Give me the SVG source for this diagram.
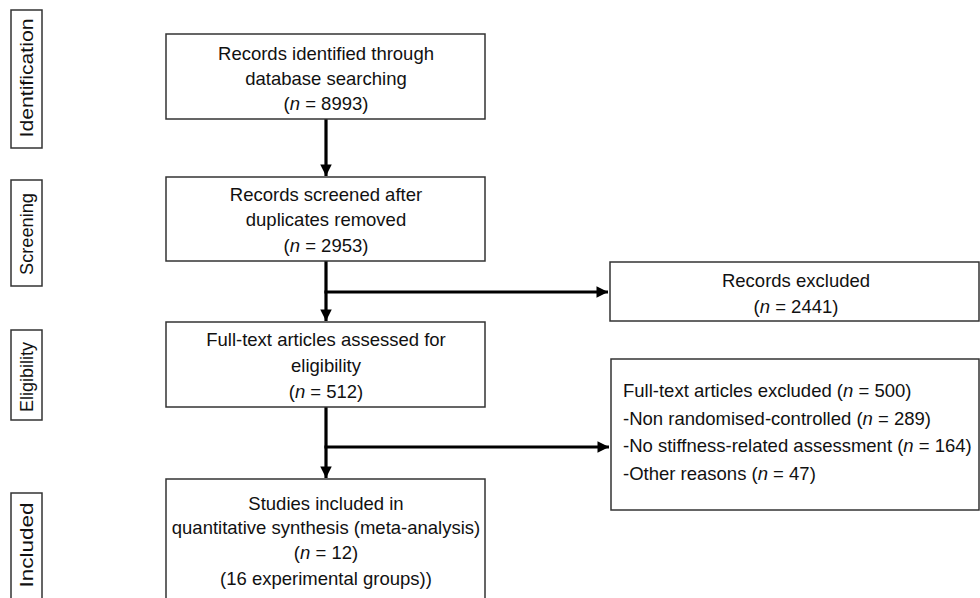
<svg xmlns="http://www.w3.org/2000/svg" width="980" height="598" viewBox="0 0 980 598">
<style>
.box{fill:#fff;stroke:#333;stroke-width:1.5}
.t{font-family:"Liberation Sans",Arial,sans-serif;font-size:18.5px;fill:#111}
.c{text-anchor:middle}
.side{font-family:"Liberation Sans",Arial,sans-serif;font-size:19px;fill:#111;text-anchor:middle}
.con{stroke:#000;stroke-width:3.2;fill:none}
</style>
<defs>
<marker id="ah" viewBox="0 0 10 10" refX="10" refY="5" markerWidth="4" markerHeight="3.6" orient="auto" markerUnits="strokeWidth">
<path d="M0,0 L10,5 L0,10 z" fill="#000"/>
</marker>
</defs>
<rect width="980" height="598" fill="#fff"/>

<g id="side-identification">
<rect class="box" x="11" y="10" width="31" height="138"/>
<text class="side" transform="translate(33,78) rotate(-90)" textLength="119" lengthAdjust="spacingAndGlyphs">Identification</text>
</g>
<g id="side-screening">
<rect class="box" x="11" y="180" width="31" height="106"/>
<text class="side" transform="translate(33,234) rotate(-90)" textLength="82" lengthAdjust="spacingAndGlyphs">Screening</text>
</g>
<g id="side-eligibility">
<rect class="box" x="11" y="330" width="31" height="90"/>
<text class="side" transform="translate(33,377) rotate(-90)" textLength="70" lengthAdjust="spacingAndGlyphs">Eligibility</text>
</g>
<g id="side-included">
<rect class="box" x="11" y="493" width="31" height="110"/>
<text class="side" transform="translate(33,545) rotate(-90)" textLength="85" lengthAdjust="spacingAndGlyphs">Included</text>
</g>

<g id="connectors">
<line class="con" x1="326" y1="119" x2="326" y2="176" marker-end="url(#ah)"/>
<line class="con" x1="326" y1="261" x2="326" y2="321" marker-end="url(#ah)"/>
<line class="con" x1="324.4" y1="292" x2="608" y2="292" marker-end="url(#ah)"/>
<line class="con" x1="326" y1="407" x2="326" y2="478" marker-end="url(#ah)"/>
<line class="con" x1="324.4" y1="447" x2="609" y2="447" marker-end="url(#ah)"/>
</g>

<g id="identified">
<rect class="box" x="166" y="34" width="319" height="85"/>
<text class="t c" x="326" y="60">Records identified through</text>
<text class="t c" x="326" y="85">database searching</text>
<text class="t c" x="326" y="110">(<tspan font-style="italic">n</tspan> = 8993)</text>
</g>
<g id="screened">
<rect class="box" x="166" y="177" width="319" height="84"/>
<text class="t c" x="326" y="201">Records screened after</text>
<text class="t c" x="326" y="226">duplicates removed</text>
<text class="t c" x="326" y="252">(<tspan font-style="italic">n</tspan> = 2953)</text>
</g>
<g id="excluded-records">
<rect class="box" x="610" y="262" width="369" height="59"/>
<text class="t c" x="796" y="287">Records excluded</text>
<text class="t c" x="796" y="313">(<tspan font-style="italic">n</tspan> = 2441)</text>
</g>
<g id="eligibility">
<rect class="box" x="166" y="322" width="319" height="85"/>
<text class="t c" x="326" y="346">Full-text articles assessed for</text>
<text class="t c" x="326" y="372">eligibility</text>
<text class="t c" x="326" y="398">(<tspan font-style="italic">n</tspan> = 512)</text>
</g>
<g id="excluded-articles">
<rect class="box" x="611" y="359" width="368" height="151"/>
<text class="t" x="623" y="397">Full-text articles excluded (<tspan font-style="italic">n</tspan> = 500)</text>
<text class="t" x="623" y="425">-Non randomised-controlled (<tspan font-style="italic">n</tspan> = 289)</text>
<text class="t" x="623" y="452">-No stiffness-related assessment (<tspan font-style="italic">n</tspan> = 164)</text>
<text class="t" x="623" y="480">-Other reasons (<tspan font-style="italic">n</tspan> = 47)</text>
</g>
<g id="included">
<rect class="box" x="166" y="479" width="319" height="130"/>
<text class="t c" x="326" y="510">Studies included in</text>
<text class="t c" x="326" y="534">quantitative synthesis (meta-analysis)</text>
<text class="t c" x="326" y="559">(<tspan font-style="italic">n</tspan> = 12)</text>
<text class="t c" x="326" y="585">(16 experimental groups))</text>
</g>
</svg>
